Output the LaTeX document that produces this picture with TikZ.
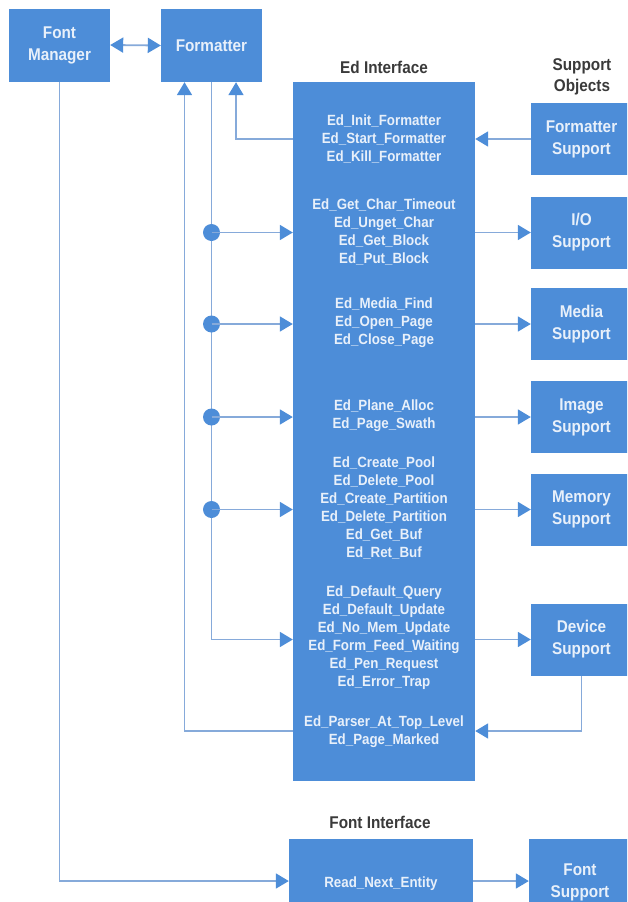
\documentclass[tikz,border=0pt]{standalone}
\usepackage{fontspec}
\setmainfont{Liberation Sans}[FakeStretch=0.9]
\usetikzlibrary{arrows.meta,calc}
\definecolor{boxblue}{HTML}{4D8DD8}
\definecolor{boxtext}{HTML}{E8F0FA}
\definecolor{linecol}{HTML}{86AADA}
\definecolor{titlecol}{HTML}{3A3A3A}
\tikzset{
  box/.style={fill=boxblue, draw=none, text=boxtext, font=\bfseries\fontsize{17}{22}\selectfont, align=center, inner sep=0pt, minimum width=101pt, minimum height=73pt},
  supbox/.style={box, minimum width=101pt, minimum height=72pt},
  fnlist/.style={text=boxtext, font=\bfseries\fontsize{14.8}{18}\selectfont, align=center, inner sep=0pt},
  title/.style={text=titlecol, font=\bfseries\fontsize{17}{21}\selectfont, align=center, inner sep=0pt},
  conn/.style={draw=linecol, line width=1.8pt},
  arr/.style={conn, -{Triangle[length=13pt,width=15pt,color=boxblue]}},
  arrb/.style={conn, {Triangle[length=13pt,width=15pt,color=boxblue]}-{Triangle[length=13pt,width=15pt,color=boxblue]}},
  dot/.style={fill=boxblue}
}
\begin{document}
\begin{tikzpicture}[x=1pt,y=-1pt]
\clip (0,0) rectangle (627,902);
\fill[white] (0,0) rectangle (627,902);

% top boxes
\node[box] (fm) at (59.5,45) {Font\\Manager};
\node[box] (fmt) at (211.5,45.5) {Formatter};

% Ed interface
\node[title] (edt) at (384,67) {Ed Interface};
\node[fill=boxblue, inner sep=0pt, minimum width=182pt, minimum height=699pt] (ed) at (384,431.5) {};
\node[fnlist] (g1) at (384,139) {Ed\_Init\_Formatter\\Ed\_Start\_Formatter\\Ed\_Kill\_Formatter};
\node[fnlist] (g2) at (384,232) {Ed\_Get\_Char\_Timeout\\Ed\_Unget\_Char\\Ed\_Get\_Block\\Ed\_Put\_Block};
\node[fnlist] (g3) at (384,323) {Ed\_Media\_Find\\Ed\_Open\_Page\\Ed\_Close\_Page};
\node[fnlist] (g4) at (384,416) {Ed\_Plane\_Alloc\\Ed\_Page\_Swath};
\node[fnlist] (g5) at (384,508) {Ed\_Create\_Pool\\Ed\_Delete\_Pool\\Ed\_Create\_Partition\\Ed\_Delete\_Partition\\Ed\_Get\_Buf\\Ed\_Ret\_Buf};
\node[fnlist] (g6) at (384,637.5) {Ed\_Default\_Query\\Ed\_Default\_Update\\Ed\_No\_Mem\_Update\\Ed\_Form\_Feed\_Waiting\\Ed\_Pen\_Request\\Ed\_Error\_Trap};
\node[fnlist] (g7) at (384,731.5) {Ed\_Parser\_At\_Top\_Level\\Ed\_Page\_Marked};

% support objects
\node[title] (sot) at (582,77) {Support\\Objects};
\node[supbox] (fs) at (581.5,139) {Formatter\\Support};
\node[supbox] (io) at (581.5,232.5) {I/O\\Support};
\node[supbox] (media) at (581.5,324) {Media\\Support};
\node[supbox] (img) at (581.5,417) {Image\\Support};
\node[supbox] (mem) at (581.5,509.5) {Memory\\Support};
\node[supbox] (dev) at (581.5,639.5) {Device\\Support};

% font interface
\node[title] (fit) at (380,822) {Font Interface};
\node[box, minimum width=184pt, minimum height=90pt, font=\bfseries\fontsize{14.8}{18}\selectfont] (read) at (381,884) {Read\_Next\_Entity};
\node[box, minimum width=102pt, minimum height=86pt] (fsup) at (580,882) {Font\\Support};

\coordinate (ret) at (384,731);
\coordinate (fsy) at (384,139);
\coordinate (fy) at (384,881);

% connectors
\draw[arrb] (fm.east) -- (fmt.west);
\draw[arr] (fs.west) -- (ed.east |- fs.west);
\draw[arr] (ed.west |- fsy) -| ($(fmt.south)+(24.5,0)$);
\draw[arr] (fmt.south) |- (ed.west |- dev.west);
\foreach \t in {io,media,img,mem}{
  \fill[dot] (fmt.south |- \t.west) circle (8.5pt);
  \draw[arr] (fmt.south |- \t.west) -- (ed.west |- \t.west);
  \draw[arr] (ed.east |- \t.west) -- (\t.west);
}
\draw[arr] (ed.east |- dev.west) -- (dev.west);
\draw[arr] (dev.south) |- (ed.east |- ret);
\draw[arr] (ed.west |- ret) -| ($(fmt.south)+(-27,0)$);
\draw[arr] (fm.south) |- (read.west |- fy);
\draw[arr] (read.east |- fy) -- (fsup.west |- fy);
\end{tikzpicture}
\end{document}
